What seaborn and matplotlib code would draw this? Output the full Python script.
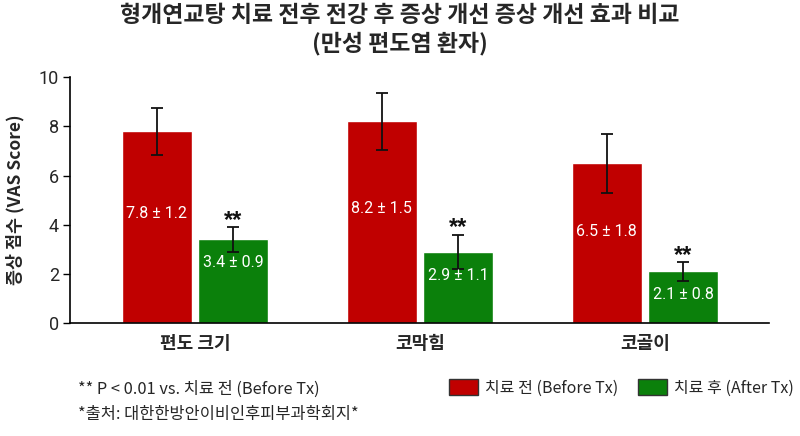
import numpy as np
import pandas as pd
import matplotlib
matplotlib.use("Agg")
import matplotlib.pyplot as plt
from matplotlib.patches import Patch
import seaborn as sns

# -------------------------------
# DATA
# -------------------------------
symptoms = ["편도 크기", "코막힘", "코골이"]
phases = ["치료 전 (Before Tx)", "치료 후 (After Tx)"]
before_mean = [7.8, 8.2, 6.5]
before_sd = [1.2, 1.5, 1.8]
after_mean = [3.4, 2.9, 2.1]
after_sd = [0.9, 1.1, 0.8]
# error bar half-lengths as drawn in the chart
before_err = [0.95, 1.15, 1.2]
after_err = [0.5, 0.7, 0.37]
sig_marks = ["**", "**", "**"]

title = "형개연교탕 치료 전후 전강 후 증상 개선 증상 개선 효과 비교\n(만성 편도염 환자)"
ylabel = "증상 점수 (VAS Score)"
footnotes = ["** P < 0.01 vs. 치료 전 (Before Tx)", "*출처: 대한한방안이비인후피부과학회지*"]

RED = "#C00000"
GREEN = "#0B800B"

df = pd.DataFrame({
    "symptom": symptoms * 2,
    "phase": [phases[0]] * 3 + [phases[1]] * 3,
    "score": before_mean + after_mean,
})

# -------------------------------
# PLOT
# -------------------------------
sns.set_style("white")
plt.rcParams["font.family"] = ["Noto Sans CJK KR", "DejaVu Sans"]

fig = plt.figure(figsize=(8, 4.36), dpi=100)
ax = fig.add_axes([0.0875, 0.259, 0.8735, 0.564])

sns.barplot(data=df, x="symptom", y="score", hue="phase",
            palette=[RED, GREEN], width=0.68, gap=0.085,
            errorbar=None, legend=False, ax=ax, saturation=1)

red_bars = ax.containers[0]
green_bars = ax.containers[1]
rx = [p.get_x() + p.get_width() / 2 for p in red_bars]
gx = [p.get_x() + p.get_width() / 2 for p in green_bars]

ax.errorbar(rx, before_mean, yerr=before_err, fmt="none", ecolor="#111111",
            elinewidth=1.3, capsize=4.5, capthick=1.3)
ax.errorbar(gx, after_mean, yerr=after_err, fmt="none", ecolor="#111111",
            elinewidth=1.3, capsize=4.5, capthick=1.3)

# value labels inside bars
for x, m, s in zip(rx, before_mean, before_sd):
    ax.text(x, m * 0.57, f"{m} ± {s}", ha="center", va="center",
            color="white", fontsize=11.5, family=["Roboto", "DejaVu Sans"])
for x, m, s in zip(gx, after_mean, after_sd):
    ax.text(x, m - 0.95, f"{m} ± {s}", ha="center", va="center",
            color="white", fontsize=11.5, family=["Roboto", "DejaVu Sans"])

# significance stars
for x, m, e, mark in zip(gx, after_mean, after_err, sig_marks):
    ax.text(x, m + e + 0.28, mark, ha="center", va="center", fontweight="bold",
            color="#111111", fontsize=17, family=["Liberation Sans", "DejaVu Sans"])

ax.set_xlim(-0.556, 2.55)
ax.set_ylim(0, 10)
ax.set_yticks([0, 2, 4, 6, 8, 10])
ax.tick_params(axis="y", labelsize=13, length=5, width=1, color="black",
               left=True, pad=3)
ax.tick_params(axis="x", length=0, pad=8)
for lab in ax.get_yticklabels():
    lab.set_family(["Roboto", "DejaVu Sans"])
for lab in ax.get_xticklabels():
    lab.set_fontsize(13)
    lab.set_fontweight("bold")
ax.set_xlabel("")
ax.set_ylabel(ylabel, fontsize=12.5, fontweight="bold", labelpad=10)

sns.despine(ax=ax)
for side in ["left", "bottom"]:
    ax.spines[side].set_color("black")
    ax.spines[side].set_linewidth(1.2)

fig.suptitle(title, fontsize=16.5, fontweight="heavy", y=0.99, linespacing=1.25)

fig.text(0.0975, 0.107, footnotes[0], fontsize=11.8, va="center")
fig.text(0.0975, 0.05, footnotes[1], fontsize=11.8, va="center")

handles = [Patch(facecolor=RED, edgecolor="#333333", label=phases[0]),
           Patch(facecolor=GREEN, edgecolor="#333333", label=phases[1])]
fig.legend(handles=handles, loc="center right", bbox_to_anchor=(1.01, 0.11),
           ncol=2, frameon=False, fontsize=11.5, handlelength=1.8,
           handleheight=1.1, columnspacing=1.2, handletextpad=0.45)

fig.savefig("out.png", dpi=100, facecolor="white")
